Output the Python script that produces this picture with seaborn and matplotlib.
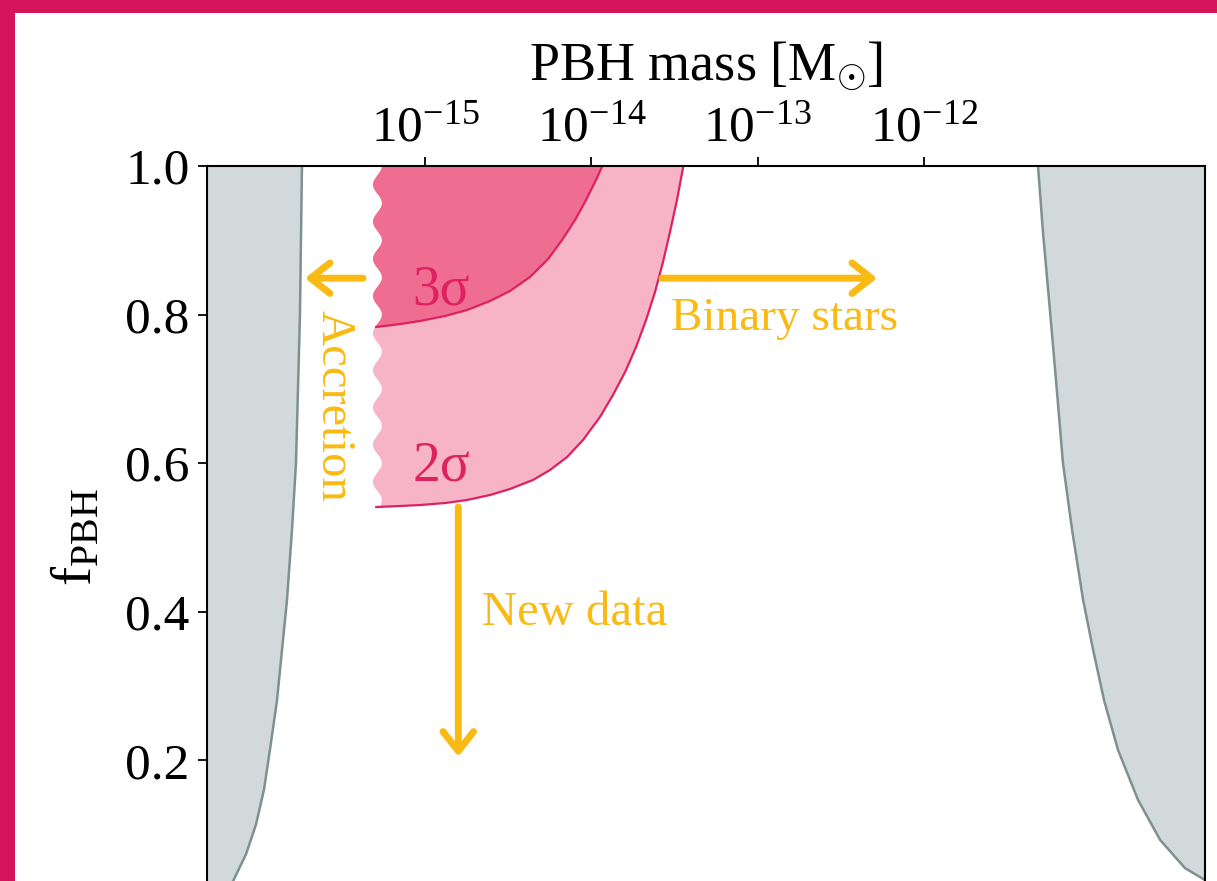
import numpy as np
import matplotlib
matplotlib.use("Agg")
import matplotlib.pyplot as plt
import seaborn as sns
from matplotlib.ticker import FixedLocator, LogFormatterMathtext, NullLocator
from matplotlib.patches import Rectangle

# ---------------- data (log10 of PBH mass in solar masses, f_PBH) ----------------
left_excl_logm = [-15.740, -15.746, -15.752, -15.764, -15.776, -15.800, -15.830, -15.866,
                  -15.890, -15.932, -15.968, -16.016, -16.076, -16.155, -16.233]
left_excl_f    = [1.0, 0.900, 0.800, 0.699, 0.600, 0.510, 0.416, 0.335,
                  0.281, 0.215, 0.161, 0.114, 0.074, 0.037, 0.005]

right_excl_logm = [-11.314, -11.284, -11.248, -11.206, -11.164, -11.109, -11.043, -10.983,
                   -10.917, -10.833, -10.713, -10.580, -10.430, -10.310]
right_excl_f    = [1.0, 0.910, 0.820, 0.712, 0.600, 0.510, 0.416, 0.349,
                   0.281, 0.214, 0.147, 0.093, 0.055, 0.039]

sig3_logm = [-15.295, -15.150, -15.030, -14.880, -14.747, -14.609, -14.489, -14.369,
             -14.260, -14.176, -14.098, -14.032, -13.978, -13.936, -13.932]
sig3_f    = [0.7833, 0.7873, 0.7914, 0.7981, 0.8062, 0.8183, 0.8318, 0.8506,
             0.8748, 0.9004, 0.9273, 0.9542, 0.9785, 0.9987, 1.0]

sig2_logm = [-15.295, -15.150, -15.030, -14.880, -14.747, -14.609, -14.489, -14.351,
             -14.248, -14.146, -14.050, -13.948, -13.870, -13.797, -13.731, -13.671,
             -13.617, -13.569, -13.527, -13.485, -13.449, -13.447]
sig2_f    = [0.5410, 0.5424, 0.5437, 0.5464, 0.5505, 0.5572, 0.5653, 0.5774,
             0.5909, 0.6083, 0.6312, 0.6622, 0.6918, 0.7227, 0.7564, 0.7927,
             0.8304, 0.8708, 0.9112, 0.9542, 0.9973, 1.0]

edge_logm = -15.286          # lower-mass (accretion) edge of the preferred region

x_ticks = [1e-15, 1e-14, 1e-13, 1e-12]
y_ticks = [0.2, 0.4, 0.6, 0.8, 1.0]
y_ticklabels = ["0.2", "0.4", "0.6", "0.8", "1.0"]

# ---------------- style ----------------
crimson = "#D5135A"
line_col = "#DE2160"
dark_pink = "#EE6D91"
light_pink = "#F6B4C6"
grey_fill = "#D1D9DB"
grey_edge = "#7D9191"
gold = "#F9BA14"

sns.set_theme(style="white")
plt.rcParams["font.family"] = ["Liberation Serif", "DejaVu Serif"]
plt.rcParams["mathtext.fontset"] = "custom"
plt.rcParams["mathtext.rm"] = "Liberation Serif"
plt.rcParams["mathtext.it"] = "Liberation Serif:italic"
plt.rcParams["mathtext.bf"] = "Liberation Serif:bold"

W, H = 1217, 881
fig = plt.figure(figsize=(W / 100, H / 100), dpi=100)
fig.patch.set_facecolor("white")
ax = fig.add_axes([207 / W, 1 - 909 / H, 998 / W, 743 / H])
ax.set_xscale("log")
ax.set_xlim(10 ** -16.311, 10 ** -10.310)
ax.set_ylim(0, 1)
ax.set_facecolor("white")

# excluded regions (grey)
lm = 10 ** np.array(left_excl_logm)
ax.fill_betweenx(left_excl_f, 1e-17, lm, color=grey_fill, lw=0, zorder=1)
sns.lineplot(x=lm, y=left_excl_f, sort=False, estimator=None, ax=ax, color=grey_edge, lw=1.8, zorder=2)
rm = 10 ** np.array(right_excl_logm)
ax.fill_betweenx(right_excl_f, rm, 1e-9, color=grey_fill, lw=0, zorder=1)
sns.lineplot(x=rm, y=right_excl_f, sort=False, estimator=None, ax=ax, color=grey_edge, lw=1.8, zorder=2)

# preferred regions with wavy lower-mass edge
def region(curve_logm, curve_f, amp=0.027, period=0.05):
    fb = curve_f[0]
    fw = np.linspace(1.0, fb, 300)
    xw = edge_logm + amp * np.cos(2 * np.pi * (1.0 - fw) / period)
    xs = np.concatenate([xw, curve_logm])
    ys = np.concatenate([fw, curve_f])
    return 10 ** xs, ys

x2, y2 = region(np.array(sig2_logm), np.array(sig2_f))
ax.fill(x2, y2, color=light_pink, lw=0, zorder=3)
x3, y3 = region(np.array(sig3_logm), np.array(sig3_f))
ax.fill(x3, y3, color=dark_pink, lw=0, zorder=4)
sns.lineplot(x=10 ** np.array(sig2_logm), y=sig2_f, sort=False, estimator=None, ax=ax,
             color=line_col, lw=1.6, zorder=5)
sns.lineplot(x=10 ** np.array(sig3_logm), y=sig3_f, sort=False, estimator=None, ax=ax,
             color=line_col, lw=1.6, zorder=5)

ax.text(10 ** -14.904, 0.833, "3σ", color=line_col, fontsize=40, ha="center", va="center", zorder=6)
ax.text(10 ** -14.904, 0.595, "2σ", color=line_col, fontsize=40, ha="center", va="center", zorder=6)

# arrows and annotations
astyle = "->,head_length=0.7,head_width=0.55"
def arrow(tail, tip):
    ax.annotate("", xy=tip, xytext=tail,
                arrowprops=dict(arrowstyle=astyle, lw=5, color=gold, capstyle="round",
                                joinstyle="round", shrinkA=0, shrinkB=0, mutation_scale=20),
                zorder=7)

arrow((10 ** -15.373, 0.849), (10 ** -15.722, 0.849))
arrow((10 ** -13.575, 0.849), (10 ** -12.282, 0.849))
arrow((10 ** -14.80, 0.541), (10 ** -14.80, 0.205))

ax.text(10 ** -15.553, 0.677, "Accretion", color=gold, fontsize=35, rotation=-90,
        ha="center", va="center", zorder=7)
ax.text(10 ** -12.841, 0.795, "Binary stars", color=gold, fontsize=34, ha="center", va="center", zorder=7)
ax.text(10 ** -14.098, 0.398, "New data", color=gold, fontsize=35, ha="center", va="center", zorder=7)

# axes, ticks, labels
ax.xaxis.tick_top()
ax.xaxis.set_label_position("top")
ax.xaxis.set_major_locator(FixedLocator(x_ticks))
ax.xaxis.set_major_formatter(LogFormatterMathtext())
ax.xaxis.set_minor_locator(NullLocator())
ax.set_yticks(y_ticks)
ax.set_yticklabels(y_ticklabels)
ax.tick_params(axis="x", which="major", top=True, bottom=False, length=6.5, width=1.3,
               labelsize=37, pad=4, colors="black")
ax.tick_params(axis="y", which="major", left=True, length=6.5, width=1.3,
               labelsize=37, pad=6, colors="black")
for s in ax.spines.values():
    s.set_color("black")
    s.set_linewidth(1.5)
    s.set_zorder(10)

ax.set_xlabel(r"PBH mass [M$_{\odot}$]", fontsize=39, labelpad=18, color="black")
ax.set_ylabel(r"f$_{\mathrm{PBH}}$", fontsize=41, labelpad=16, color="black")

# crimson frame
fig.patches.append(Rectangle((0, 1 - 13 / H), 1, 13 / H, transform=fig.transFigure,
                             color=crimson, lw=0, zorder=20))
fig.patches.append(Rectangle((0, 0), 15 / W, 1, transform=fig.transFigure,
                             color=crimson, lw=0, zorder=20))

fig.savefig("out.png", dpi=100)
